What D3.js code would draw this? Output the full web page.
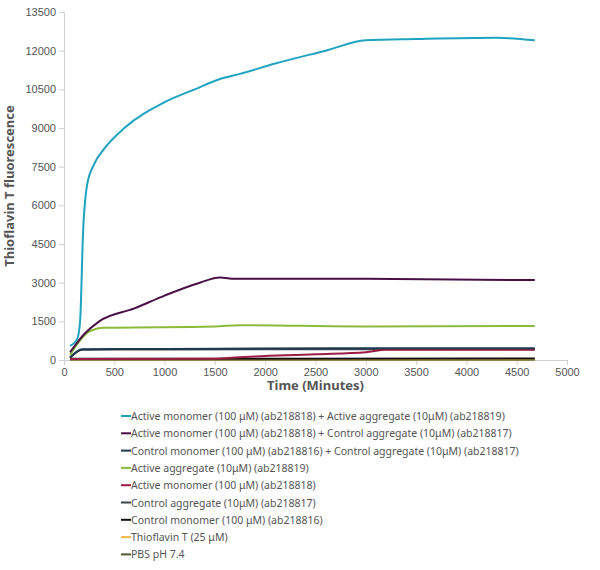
<!DOCTYPE html>
<html><head><meta charset="utf-8">
<script src="https://cdn.jsdelivr.net/npm/d3@7"></script>
<style>body{margin:0;background:#fff;font-family:"Noto Sans",sans-serif;}</style>
</head><body><svg id="c" width="600" height="570"></svg>
<script>
//series names and colours
var names = ['Active monomer (100 μM) (ab218818) + Active aggregate (10μM) (ab218819)',
  'Active monomer (100 μM) (ab218818) + Control aggregate (10μM) (ab218817)',
  'Control monomer (100 μM) (ab218816) + Control aggregate (10μM) (ab218817)',
  'Active aggregate (10μM) (ab218819)',
  'Active monomer (100 μM) (ab218818)',
  'Control aggregate (10μM) (ab218817)',
  'Control monomer (100 μM) (ab218816)',
  'Thioflavin T (25 μM)',
  'PBS pH 7.4'];
var colors = ['#1fa3c0', '#4a0f45', '#1d3a4f', '#8cbb3c', '#9c1c45', '#404448', '#111111', '#f0b840', '#4f5a30'];
var yTicks = [0, 1500, 3000, 4500, 6000, 7500, 9000, 10500, 12000, 13500];
var xTicks = [0, 500, 1000, 1500, 2000, 2500, 3000, 3500, 4000, 4500, 5000];

//points: [minutes, fluorescence]
var s0 = [[60,550],[130,800],[160,1500],[190,5000],[230,6800],[300,7600],[400,8200],[600,9000],[1000,10000],[1300,10500],[1550,10900],[1750,11100],[2100,11500],[2600,12000],[3000,12400],[3500,12450],[4300,12500],[4680,12400]];
var s1 = [[60,300],[200,1000],[350,1500],[700,2000],[1000,2500],[1350,3000],[1550,3200],[1700,3150],[3000,3150],[4680,3100]];
var s2 = [[60,100],[180,420],[1000,430],[3000,460],[4680,460]];
var s3 = [[60,200],[250,1100],[400,1250],[1500,1300],[1750,1350],[3000,1300],[4680,1320]];
var s4 = [[60,40],[1500,50],[1700,100],[2500,220],[3000,300],[3200,400],[4680,400]];
var s5 = [[60,80],[180,400],[1000,410],[3000,420],[4680,420]];
var s6 = [[60,50],[4680,55]];
var s7 = [[60,30],[4680,30]];
var s8 = [[60,10],[4680,10]];
var seriesData = [s0, s1, s2, s3, s4, s5, s6, s7, s8];

var svg = d3.select('#c'),
    pLeft = 64, pRight = 567, pTop = 12, pBottom = 360;
var x = d3.scaleLinear().domain([0, 5000]).range([pLeft, pRight]);
var y = d3.scaleLinear().domain([0, 13500]).range([pBottom, pTop]);

//axes
var xa = svg.append('g').attr('transform', 'translate(0,' + pBottom + ')')
    .call(d3.axisBottom(x).tickValues(xTicks).tickFormat(d3.format('d')).tickSize(5).tickSizeOuter(0));
var ya = svg.append('g').attr('transform', 'translate(' + pLeft + ',0)')
    .call(d3.axisLeft(y).tickValues(yTicks).tickFormat(d3.format('d')).tickSize(5).tickSizeOuter(0));
[xa, ya].forEach(function (a) {
    a.selectAll('path,line').attr('stroke', '#d0d0d0');
    a.selectAll('text').attr('fill', '#555').style('font-size', '11px');
});

//lines, drawn back to front
var line = d3.line().x(function (d) { return x(d[0]); }).y(function (d) { return y(d[1]); })
    .curve(d3.curveMonotoneX);
for (var i = seriesData.length - 1; i >= 0; i--) {
    svg.append('path').attr('d', line(seriesData[i])).attr('fill', 'none')
        .attr('stroke', colors[i]).attr('stroke-width', 2);
}

//axis titles
svg.append('text').attr('x', (pLeft + pRight) / 2).attr('y', 390).attr('text-anchor', 'middle')
    .style('font-size', '13px').style('font-weight', 'bold').attr('fill', '#555').text('Time (Minutes)');
svg.append('text').attr('transform', 'translate(14,' + (pTop + pBottom) / 2 + ') rotate(-90)')
    .attr('text-anchor', 'middle').style('font-size', '13px').style('font-weight', 'bold')
    .attr('fill', '#555').text('Thioflavin T fluorescence');

//legend
var lg = svg.append('g').attr('transform', 'translate(121,416)');
names.forEach(function (n, i) {
    var g = lg.append('g').attr('transform', 'translate(0,' + i * 17.3 + ')');
    g.append('line').attr('x1', 0).attr('x2', 10).attr('stroke', colors[i]).attr('stroke-width', 2);
    g.append('text').attr('x', 10).attr('y', 4).style('font-size', '10.5px').attr('fill', '#555').text(n);
});
</script></body></html>
